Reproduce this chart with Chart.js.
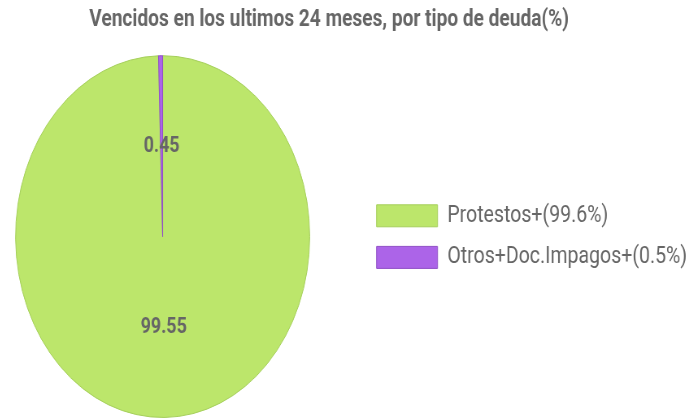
<!DOCTYPE html>
<html><head><meta charset="utf-8">
<script src="https://cdn.jsdelivr.net/npm/chart.js@4"></script>
<style>
html,body{margin:0;padding:0;background:#fff;overflow:hidden;width:700px;height:420px;}
#wrap{position:absolute;left:-37.4px;top:0;width:930px;height:420px;transform:scaleX(0.813);transform-origin:0 0;}
</style></head><body>
<div id="wrap"><canvas id="c" width="930" height="420"></canvas></div>
<script>
const title = 'Vencidos en los ultimos 24 meses, por tipo de deuda(%)';
const categories = ['Protestos+(99.6%)', 'Otros+Doc.Impagos+(0.5%)'];
const values = [99.55, 0.45];
const fillColors = ['#bce66b', '#ac64e8'];
const edgeColors = ['#a5cf5b', '#9150c8'];

const valueLabels = {
  id: 'valueLabels',
  afterDatasetsDraw(chart) {
    const ctx = chart.ctx;
    const meta = chart.getDatasetMeta(0);
    ctx.save();
    ctx.font = 'bold 22px Roboto';
    ctx.fillStyle = '#666';
    ctx.textAlign = 'center';
    ctx.textBaseline = 'middle';
    meta.data.forEach((arc, i) => {
      const p = arc.tooltipPosition();
      ctx.fillText(String(chart.data.datasets[0].data[i]), p.x, p.y);
    });
    ctx.restore();
  }
};

new Chart(document.getElementById('c'), {
  type: 'pie',
  data: {
    labels: categories,
    datasets: [{
      data: values,
      backgroundColor: fillColors,
      borderColor: edgeColors,
      borderWidth: 1
    }]
  },
  options: {
    responsive: false,
    animation: false,
    devicePixelRatio: 1,
    layout: { padding: { left: 0, right: 29.3, top: 0, bottom: 2 } },
    plugins: {
      title: {
        display: true,
        text: title,
        color: '#666',
        font: { family: 'Roboto', size: 23.5, weight: 'bold' },
        padding: { top: 6, bottom: 21 }
      },
      legend: {
        position: 'right',
        fullSize: false,
        labels: {
          boxWidth: 75,
          boxHeight: 22,
          padding: 17.6,
          color: '#666',
          font: { family: 'Roboto', size: 24 }
        }
      },
      tooltip: { enabled: false }
    }
  },
  plugins: [valueLabels]
});
</script>
</body></html>
